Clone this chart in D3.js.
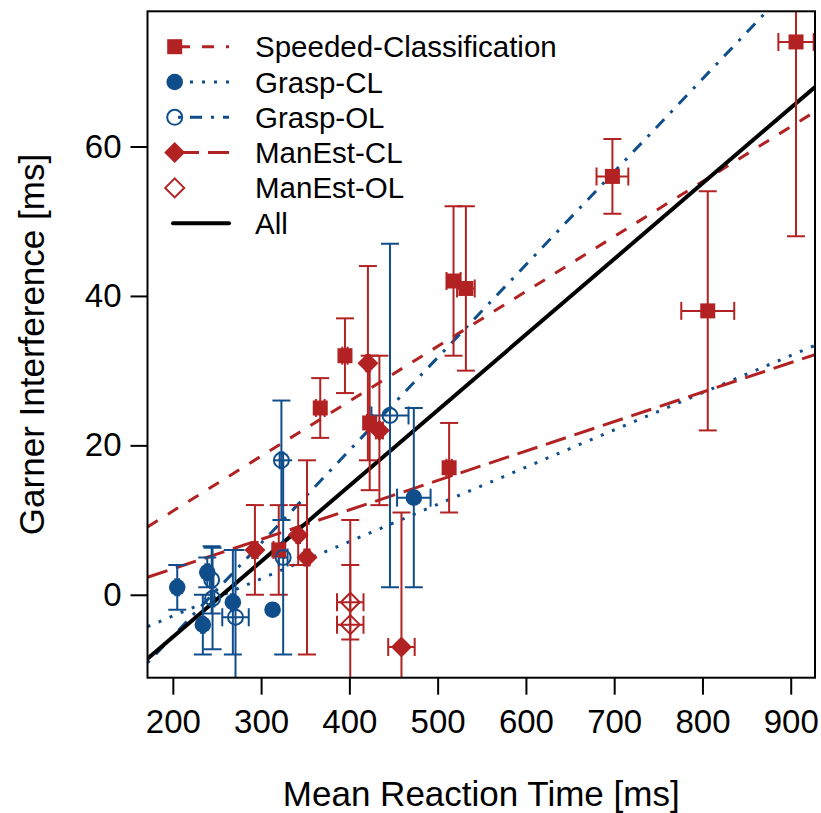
<!DOCTYPE html>
<html><head><meta charset="utf-8">
<script src="https://cdn.jsdelivr.net/npm/d3@7"></script>
<style>body{margin:0;background:#fff}svg{display:block}text{font-family:"Liberation Sans",Arial,sans-serif}</style>
</head><body><svg id="c" width="821" height="813"></svg>
<script>
// ---- data ----
const xTicks = [200,300,400,500,600,700,800,900];
const yTicks = [0,20,40,60];
const seriesNames = ["Speeded-Classification","Grasp-CL","Grasp-OL","ManEst-CL","ManEst-OL","All"];
// each point: [meanRT, garner, xErr, yErr]
const speeded = [[320,6,6,6],[367,25,5,4],[395,32,3,5],[423,23,3,9],[513,17,3,6],[518,42,8,10],[532,41,10,11],[698,56,18,5],[806,38,30,16],[906,74,20,26]];
const graspCL = [[205,1,2,3],[234,-4,2,4],[239,3,2,2],[268,-1,2,7],[313,-2,0,0],[473,13,19,12]];
const graspOL = [[244,2,2,4.5],[245,-0.5,2,6.8],[271,-3,15,9],[323,18,2,8],[325,5,5,13],[446,24,21,23]];
const manEstCL = [[293,6,3,6],[342,8,2,4],[352,5,3,13],[421,31,2,13],[434,22,4,10],[459,-7,15,18]];
const manEstOL = [[401,-1,15,5],[401,-4,15,14]];
// regression lines: [intercept, slope]
const fitSpeeded = [-3.5, 0.0735];
const fitGraspCL = [-12.8, 0.0498];
const fitGraspOL = [-30.4, 0.1243];
const fitManEstCL = [-4.4, 0.0394];
const fitAll = [-25.9, 0.1012];

// ---- layout ----
const red = "#B22222", blue = "#104E8B";
const L = 147.5, R = 815, T = 11.3, B = 677.7;
const x = d3.scaleLinear().domain([171.3, 927.5]).range([L, R]);
const y = d3.scaleLinear().domain([-11.1, 78.1]).range([B, T]);
const svg = d3.select("#c");
svg.append("defs").append("clipPath").attr("id","clip").append("rect")
  .attr("x",L).attr("y",T).attr("width",R-L).attr("height",B-T);
const plot = svg.append("g").attr("clip-path","url(#clip)");

// fit lines
const lines = [
  {f:fitSpeeded, c:red, dash:"12,12", w:3},
  {f:fitGraspCL, c:blue, dash:"3,9", w:3},
  {f:fitGraspOL, c:blue, dash:"3,9,12,9", w:3},
  {f:fitManEstCL, c:red, dash:"21,9", w:3},
  {f:fitAll, c:"#000", dash:null, w:4}
];
const xd = x.domain();
lines.forEach(l => {
  const ln = plot.append("line")
    .attr("x1", x(xd[0])).attr("y1", y(l.f[0]+l.f[1]*xd[0]))
    .attr("x2", x(xd[1])).attr("y2", y(l.f[0]+l.f[1]*xd[1]))
    .attr("stroke", l.c).attr("stroke-width", l.w).attr("fill","none");
  if (l.dash) ln.attr("stroke-dasharray", l.dash);
});

// error bars + points
const cap = 9;
function errBars(data, color){
  const g = plot.append("g").attr("stroke", color).attr("stroke-width", 2).attr("fill","none");
  data.forEach(d => {
    if (d[3] > 0) {
      g.append("line").attr("x1",x(d[0])).attr("x2",x(d[0])).attr("y1",y(d[1]-d[3])).attr("y2",y(d[1]+d[3]));
      [d[1]-d[3], d[1]+d[3]].forEach(v => g.append("line").attr("x1",x(d[0])-cap).attr("x2",x(d[0])+cap).attr("y1",y(v)).attr("y2",y(v)));
    }
    if (d[2] > 0) {
      g.append("line").attr("y1",y(d[1])).attr("y2",y(d[1])).attr("x1",x(d[0]-d[2])).attr("x2",x(d[0]+d[2]));
      [d[0]-d[2], d[0]+d[2]].forEach(v => g.append("line").attr("y1",y(d[1])-cap).attr("y2",y(d[1])+cap).attr("x1",x(v)).attr("x2",x(v)));
    }
  });
}
function sym(g, type, color, cx, cy){
  if (type === "square") g.append("rect").attr("x",cx-7.5).attr("y",cy-7.5).attr("width",15).attr("height",15).attr("fill",color);
  else if (type === "circle") g.append("circle").attr("cx",cx).attr("cy",cy).attr("r",8.3).attr("fill",color);
  else if (type === "ocircle") g.append("circle").attr("cx",cx).attr("cy",cy).attr("r",7.5).attr("fill","none").attr("stroke",color).attr("stroke-width",2);
  else if (type === "diamond") g.append("path").attr("d",`M${cx},${cy-10.5}L${cx+10.5},${cy}L${cx},${cy+10.5}L${cx-10.5},${cy}Z`).attr("fill",color);
  else if (type === "odiamond") g.append("path").attr("d",`M${cx},${cy-9.5}L${cx+9.5},${cy}L${cx},${cy+9.5}L${cx-9.5},${cy}Z`).attr("fill","none").attr("stroke",color).attr("stroke-width",2);
}
const groups = [
  {d:speeded, t:"square", c:red},
  {d:graspCL, t:"circle", c:blue},
  {d:graspOL, t:"ocircle", c:blue},
  {d:manEstCL, t:"diamond", c:red},
  {d:manEstOL, t:"odiamond", c:red}
];
groups.forEach(g => errBars(g.d, g.c));
groups.forEach(g => { const gg = plot.append("g"); g.d.forEach(d => sym(gg, g.t, g.c, x(d[0]), y(d[1]))); });

// box
svg.append("rect").attr("x",L).attr("y",T).attr("width",R-L).attr("height",B-T)
  .attr("fill","none").attr("stroke","#000").attr("stroke-width",2);

// axes
const FS = 33, FT = 35;
const xa = svg.append("g").attr("transform",`translate(0,${B})`)
  .call(d3.axisBottom(x).tickValues(xTicks).tickSize(17).tickPadding(27).tickSizeOuter(0));
const ya = svg.append("g").attr("transform",`translate(${L},0)`)
  .call(d3.axisLeft(y).tickValues(yTicks).tickSize(17).tickPadding(9).tickSizeOuter(0));
[xa, ya].forEach(a => {
  a.select(".domain").remove();
  a.selectAll("line").attr("stroke","#000").attr("stroke-width",2);
  a.selectAll("text").attr("font-size",FS).attr("fill","#000").style("font-family","Liberation Sans, Arial, sans-serif");
});
xa.selectAll("text").attr("dy","0.35em");
svg.append("text").attr("x",(L+R)/2).attr("y",806).attr("text-anchor","middle").attr("font-size",FT).text("Mean Reaction Time [ms]");
svg.append("text").attr("transform",`translate(44,${(T+B)/2}) rotate(-90)`).attr("text-anchor","middle").attr("font-size",FT).text("Garner Interference [ms]");

// legend
const leg = svg.append("g");
const legItems = [
  {t:"square", c:red, dash:"12,12", w:3},
  {t:"circle", c:blue, dash:"3,9", w:3},
  {t:"ocircle", c:blue, dash:"3,9,12,9", w:3},
  {t:"diamond", c:red, dash:"21,9", w:3},
  {t:"odiamond", c:red, dash:null, w:0},
  {t:null, c:"#000", dash:null, w:4}
];
legItems.forEach((it, i) => {
  const cy = 46.7 + i*35.3;
  if (it.w > 0) {
    const ln = leg.append("line").attr("x1", 178).attr("x2", 229).attr("y1",cy).attr("y2",cy)
      .attr("stroke", it.c).attr("stroke-width", it.w);
    if (it.dash) ln.attr("stroke-dasharray", it.dash);
    if (!it.t) ln.attr("x1",173).attr("stroke-linecap","round");
  }
  if (it.t) sym(leg, it.t, it.c, 174.7, cy);
  leg.append("text").attr("x",255).attr("y",cy+10.5).attr("font-size",29.5).text(seriesNames[i]);
});
</script></body></html>
